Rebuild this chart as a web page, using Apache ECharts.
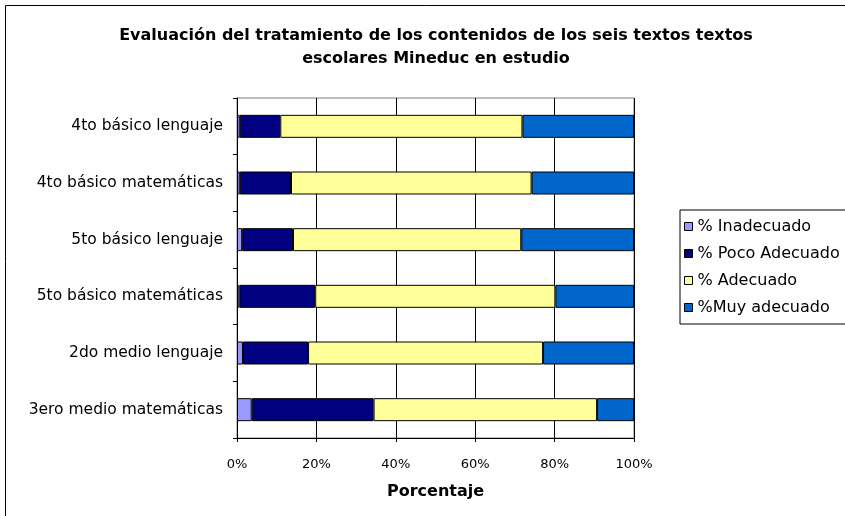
<!DOCTYPE html>
<html>
<head>
<meta charset="utf-8">
<script src="https://cdn.jsdelivr.net/npm/echarts@6/dist/echarts.min.js"></script>
<style>
  html, body { margin: 0; padding: 0; background: #fff; }
  #chart { width: 845px; height: 516px; }
</style>
</head>
<body>
<div id="chart"></div>
<script>
// categorias, de arriba hacia abajo
var categorias = ['4to básico lenguaje', '4to básico matemáticas', '5to básico lenguaje',
  '5to básico matemáticas', '2do medio lenguaje', '3ero medio matemáticas'];
var nombresSeries = ['% Inadecuado', '% Poco Adecuado', '% Adecuado', '%Muy adecuado'];
var inadecuado = [0.7, 0.7, 1.3, 0.6, 1.5, 3.7];
var pocoAdecuado = [10.2, 12.9, 12.8, 19.1, 16.4, 30.7];
var adecuado = [61.0, 60.6, 57.5, 60.5, 59.2, 56.3];
var muyAdecuado = [28.1, 25.8, 28.4, 19.8, 22.9, 9.3];
var colores = ['#9999FF', '#000080', '#FFFF99', '#0066CC'];

var fuente = 'DejaVu Sans';
var valores = [inadecuado, pocoAdecuado, adecuado, muyAdecuado];

var myChart = echarts.init(document.getElementById('chart'));
var option = {
  animation: false,
  title: {
    text: 'Evaluación del tratamiento de los contenidos de los seis textos textos\nescolares Mineduc en estudio',
    left: 431, top: 19, textAlign: 'center',
    textStyle: { fontFamily: fuente, fontSize: 16, fontWeight: 'bold', color: '#000', lineHeight: 23 }
  },
  graphic: [{
    type: 'rect', shape: { x: 5.5, y: 5.5, width: 900, height: 600 },
    style: { fill: 'none', stroke: '#000', lineWidth: 1 }
  }],
  legend: {
    orient: 'vertical', left: 680, top: 210,
    itemWidth: 8, itemHeight: 8, itemGap: 10,
    padding: [8, 30, 8, 4],
    borderColor: '#000', borderWidth: 1,
    icon: 'rect',
    textStyle: { fontFamily: fuente, fontSize: 16, color: '#000', lineHeight: 17 },
    itemStyle: { borderColor: '#000', borderWidth: 1 },
    data: nombresSeries
  },
  grid: {
    left: 237, top: 98, width: 397, height: 340,
    show: true, borderColor: '#808080', borderWidth: 1, backgroundColor: '#fff'
  },
  xAxis: {
    type: 'value', min: 0, max: 100, interval: 20,
    name: 'Porcentaje', nameLocation: 'middle', nameGap: 46,
    nameTextStyle: { fontFamily: fuente, fontSize: 16, fontWeight: 'bold', color: '#000' },
    axisLine: { show: true, lineStyle: { color: '#000' } },
    axisTick: { show: true, length: 4, lineStyle: { color: '#000' } },
    axisLabel: { formatter: '{value}%', margin: 20, fontFamily: fuente, fontSize: 13, color: '#000' },
    splitLine: { show: true, lineStyle: { color: '#000', width: 1 } }
  },
  yAxis: {
    type: 'category', inverse: true, data: categorias,
    axisLine: { show: true, lineStyle: { color: '#000' } },
    axisTick: { show: true, length: 4, alignWithLabel: false, lineStyle: { color: '#000' } },
    axisLabel: { margin: 14, fontFamily: fuente, fontSize: 15.5, color: '#000' }
  },
  series: nombresSeries.map(function (n, i) {
    return {
      name: n, type: 'bar', stack: 'total', barWidth: 23,
      itemStyle: { color: colores[i], borderColor: '#000', borderWidth: 1 },
      data: valores[i]
    };
  })
};
myChart.setOption(option);
</script>
</body>
</html>
